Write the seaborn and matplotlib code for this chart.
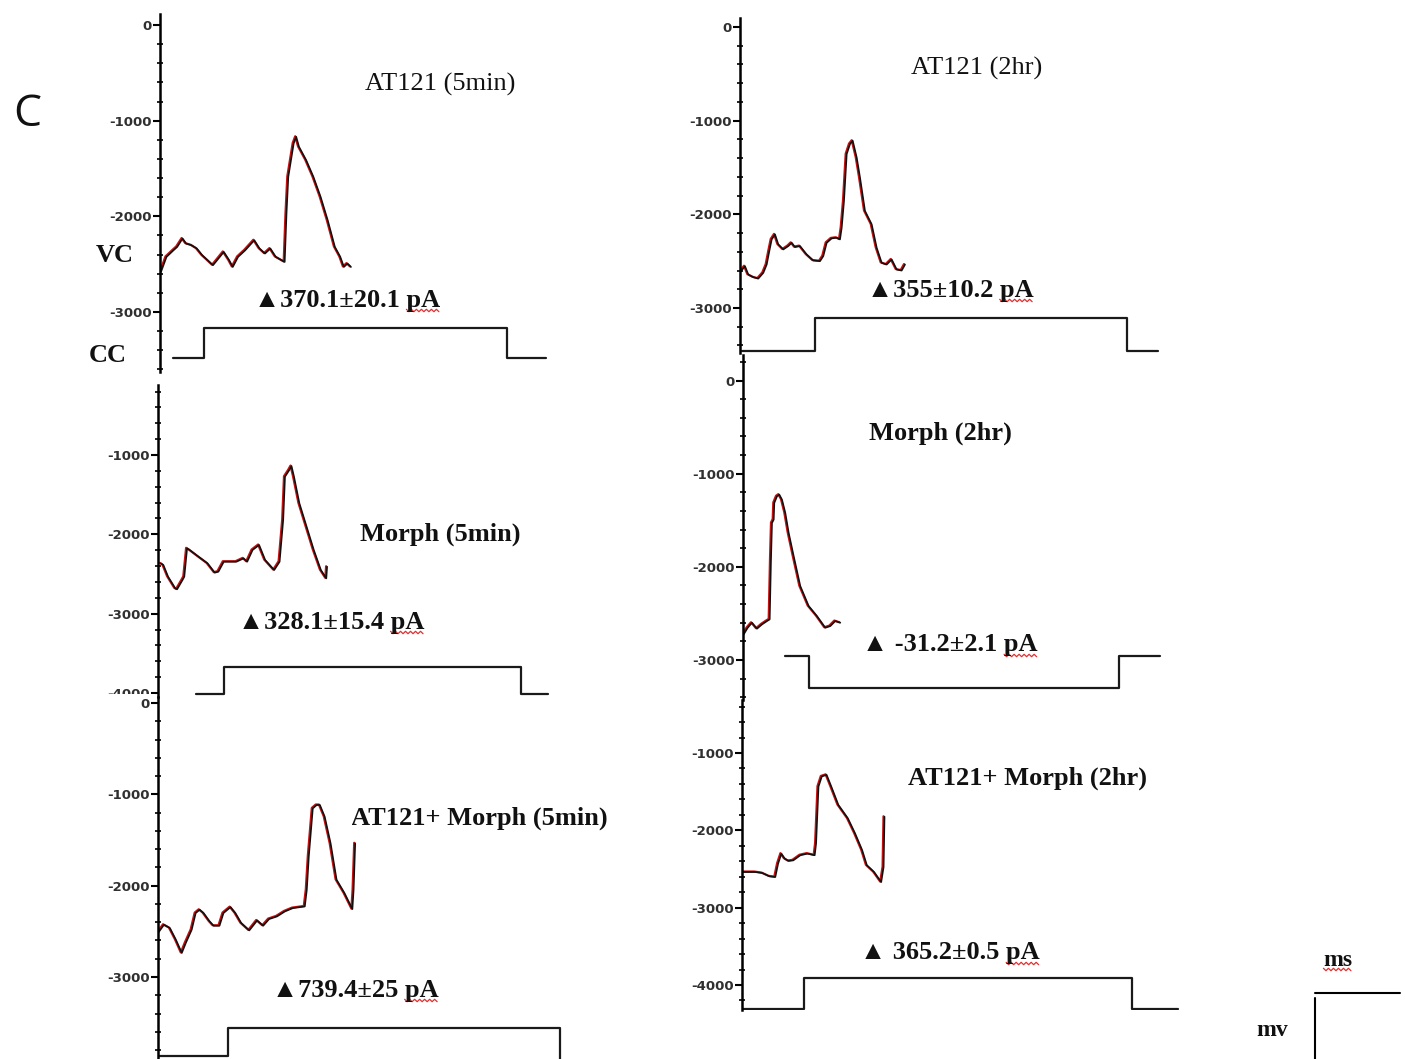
"""
Panel C - VC/CC traces for AT121 / Morph treatments (5 min and 2 hr)
"""
import numpy as np
import matplotlib
matplotlib.use("Agg")
import matplotlib.pyplot as plt
from matplotlib.ticker import MultipleLocator
from matplotlib.patches import Rectangle
from matplotlib.lines import Line2D
from matplotlib.transforms import offset_copy
import seaborn as sns

W, H = 1405, 1059

# ---- recorded traces (sample time, current in pA) ----
at121_5min_t = [1, 6.5, 13.6, 17.2, 22.6, 26.2, 31.5, 36.9, 42.3, 47.7, 53, 58.4, 63.8, 69.2,
                72.8, 78.1, 85.3, 94.3, 99.6, 105, 110.4, 115.8, 124.7, 126.5, 128.3, 133.7,
                136.2, 139, 146.2, 153.4, 160.6, 167.7, 174.9, 180.3, 183.9, 187.5, 191]
at121_5min_v = [-2581, -2424, -2354, -2320, -2232, -2285, -2302, -2337, -2407, -2459, -2511,
                -2442, -2372, -2459, -2529, -2424, -2354, -2250, -2337, -2389, -2337, -2424,
                -2477, -1971, -1587, -1238, -1168, -1273, -1413, -1587, -1796, -2040, -2320,
                -2424, -2529, -2494, -2529]

morph_5min_t = [2.9, 5.4, 10.1, 17.3, 19.1, 24.5, 26.3, 29.1, 31.7, 40.6, 49.6, 56.8, 60.4,
                65.8, 78.4, 85.6, 89.2, 94.6, 101.1, 107.2, 116.2, 121.6, 125.2, 127, 131.3,
                133.5, 136, 141.4, 148.6, 155.8, 162.9, 168.3, 169.1]
morph_5min_v = [-2366, -2387, -2534, -2681, -2693, -2576, -2534, -2176, -2197, -2282, -2366,
                -2483, -2471, -2345, -2345, -2303, -2345, -2197, -2134, -2324, -2450, -2345,
                -1819, -1273, -1189, -1139, -1273, -1609, -1903, -2197, -2450, -2555, -2408]

combo_5min_t = [0, 6, 11.9, 17.9, 23.8, 27.8, 33.7, 37.7, 41.7, 45.6, 51.6, 55.6, 61.5, 65.5,
                72.6, 77.4, 83.3, 91.3, 99.2, 105.2, 111.1, 119, 127, 134.9, 146.8, 148.8,
                150.8, 154.8, 158.7, 161.9, 166.7, 172.6, 178.6, 186.5, 194.4, 195.6, 197.2]
combo_5min_v = [-2519, -2428, -2464, -2592, -2737, -2628, -2483, -2300, -2264, -2300, -2391,
                -2439, -2439, -2300, -2235, -2300, -2410, -2490, -2381, -2439, -2366, -2337,
                -2282, -2246, -2228, -2046, -1682, -1154, -1117, -1117, -1245, -1536, -1936,
                -2082, -2257, -2046, -1536]

at121_2hr_t = [1, 5, 8.3, 13.3, 18.3, 23.3, 26.7, 29.3, 31.7, 35, 38.3, 43.3, 48.3, 51.7, 55,
               60, 66.7, 73.3, 80, 83.3, 86.7, 91.7, 96.7, 100, 101.7, 104, 106.7, 110, 112.7,
               116.7, 120, 125, 131.7, 136.7, 141.7, 146.7, 151.7, 156.7, 161.7, 165]
at121_2hr_v = [-2607, -2554, -2643, -2671, -2686, -2625, -2536, -2393, -2268, -2214, -2321,
               -2375, -2339, -2304, -2350, -2339, -2429, -2493, -2500, -2446, -2304, -2257,
               -2250, -2268, -2143, -1857, -1357, -1250, -1214, -1393, -1607, -1964, -2107,
               -2357, -2518, -2536, -2482, -2589, -2600, -2536]

morph_2hr_t = [0.7, 4.7, 9, 14, 19, 24, 26.7, 28, 29, 30.7, 31.3, 34, 36.3, 39, 42.3, 45.7,
               50.7, 57.3, 65.7, 74, 82.3, 87.3, 92.3, 97.3]
morph_2hr_v = [-2725, -2654, -2600, -2664, -2618, -2582, -2564, -1921, -1529, -1493, -1314,
               -1243, -1225, -1279, -1421, -1636, -1886, -2207, -2421, -2529, -2654, -2636,
               -2582, -2600]

combo_2hr_t = [1.4, 13.3, 20.4, 27.6, 33.3, 36.1, 39.4, 42.8, 46.6, 51.3, 58.4, 65.6, 72.7,
               74.1, 76.5, 79.8, 84.6, 89.3, 96.4, 105.9, 113.1, 120.2, 124.9, 132.1, 139.2,
               141.6, 142.5]
combo_2hr_v = [-2539, -2539, -2552, -2595, -2604, -2431, -2301, -2366, -2396, -2388, -2322,
               -2301, -2322, -2170, -1434, -1303, -1282, -1434, -1672, -1845, -2040, -2257,
               -2452, -2539, -2669, -2474, -1824]

# ---- CC command steps (edges in sample time, levels in pA) ----
at121_5min_step_t = [12.5, 44, 347, 386]
at121_5min_step_v = [-3477, -3167, -3477]
morph_5min_step_t = [38, 66, 363, 390]
morph_5min_step_v = [-4013, -3676, -4013]
combo_5min_step_t = [0, 70, 402, 430]
combo_5min_step_v = [-3860, -3557, -3930]
at121_2hr_step_t = [1.7, 75, 387, 418]
at121_2hr_step_v = [-3457, -3107, -3457]
morph_2hr_step_t = [42, 66, 376, 417]
morph_2hr_step_v = [-2957, -3296, -2957]
combo_2hr_step_t = [0, 62, 390, 436]
combo_2hr_step_v = [-4316, -3904, -4316]

# ---- labels ----
panel_titles = ["AT121 (5min)", "Morph (5min)", "AT121+ Morph (5min)",
                "AT121 (2hr)", "Morph (2hr)", "AT121+ Morph (2hr)"]
panel_values = ["\u25b2370.1\u00b120.1 pA", "\u25b2328.1\u00b115.4 pA", "\u25b2739.4\u00b125 pA",
                "\u25b2355\u00b110.2 pA", "\u25b2 -31.2\u00b12.1 pA", "\u25b2 365.2\u00b10.5 pA"]

sns.set_theme(style="white")
plt.rcParams["font.family"] = ["DejaVu Sans"]
plt.rcParams["axes.unicode_minus"] = False
SERIF = ["Liberation Serif", "DejaVu Serif"]

fig = plt.figure(figsize=(W / 100, H / 100), dpi=100)


def fx(x):
    return x / W


def fy(y):
    return 1 - y / H


def add_panel(spine_x, top, bottom, right, zero_px, px_per_1000, ticks, z=0):
    ax = fig.add_axes([fx(spine_x), fy(bottom), (right - spine_x) / W, (bottom - top) / H],
                      zorder=z)
    ax.set_facecolor("none")
    ax.set_xlim(0, right - spine_x)
    ax.set_ylim(-(bottom - zero_px) / px_per_1000 * 1000,
                (zero_px - top) / px_per_1000 * 1000)
    for s in ["top", "right", "bottom"]:
        ax.spines[s].set_visible(False)
    ax.spines["left"].set_linewidth(1.8)
    ax.spines["left"].set_color("black")
    ax.set_xticks([])
    ax.set_yticks(ticks)
    ax.set_yticklabels([str(t) for t in ticks], fontweight="bold")
    ax.yaxis.set_minor_locator(MultipleLocator(200))
    ax.tick_params(axis="y", which="major", direction="out", length=5, width=1.5,
                   labelsize=9.5, pad=1, colors="black", labelcolor="#303030", left=True)
    ax.tick_params(axis="y", which="minor", direction="inout", length=4, width=1.2,
                   colors="black", left=True)
    ax.grid(False)
    return ax


def draw_trace(ax, t, v, st, sv):
    sns.lineplot(x=t, y=v, ax=ax, color="#c81010", lw=1.6, sort=False, estimator=None)
    ax.lines[-1].set_transform(offset_copy(ax.transData, fig=fig, x=-1.0, y=0.5, units="dots"))
    sns.lineplot(x=t, y=v, ax=ax, color="#101010", lw=1.2, sort=False, estimator=None)
    sns.lineplot(x=st, y=list(sv) + [sv[-1]], ax=ax, color="#1a1a1a", lw=1.6,
                 sort=False, estimator=None, drawstyle="steps-post")


panels = [
    (add_panel(160, 14, 372, 560, 25, 95.67, [0, -1000, -2000, -3000]),
     at121_5min_t, at121_5min_v, at121_5min_step_t, at121_5min_step_v),
    (add_panel(158, 385, 697, 560, 375.7, 79.33, [-1000, -2000, -3000, -4000]),
     morph_5min_t, morph_5min_v, morph_5min_step_t, morph_5min_step_v),
    (add_panel(158, 697, 1059, 600, 703, 91.33, [0, -1000, -2000, -3000], z=2),
     combo_5min_t, combo_5min_v, combo_5min_step_t, combo_5min_step_v),
    (add_panel(740, 18, 353, 1165, 27, 93.67, [0, -1000, -2000, -3000]),
     at121_2hr_t, at121_2hr_v, at121_2hr_step_t, at121_2hr_step_v),
    (add_panel(743, 355, 700, 1165, 380.5, 93.17, [0, -1000, -2000, -3000]),
     morph_2hr_t, morph_2hr_v, morph_2hr_step_t, morph_2hr_step_v),
    (add_panel(742, 700, 1010, 1185, 675.7, 77.33, [-1000, -2000, -3000, -4000]),
     combo_2hr_t, combo_2hr_v, combo_2hr_step_t, combo_2hr_step_v),
]
for ax, t, v, st, sv in panels:
    draw_trace(ax, t, v, st, sv)

# half-hidden "-4000" of the Morph (5min) panel
fig.add_artist(Rectangle((fx(80), fy(700)), 75 / W, 6 / H, transform=fig.transFigure,
                         facecolor="white", edgecolor="none", zorder=1))

# ---- text ----
def label(x, y, s, size=19, weight="bold", ha="center", family=SERIF):
    return fig.text(fx(x), fy(y), s, ha=ha, va="center", fontsize=size, fontweight=weight,
                    family=family, color="#111111", zorder=3)


label(27, 115, "C", size=32, weight="normal", family=["Open Sans", "DejaVu Sans"])
label(115, 256, "VC")
label(108, 355, "CC")

title_pos = [(440, 84, "center"), (440, 534, "center"), (608, 818, "right"),
             (977, 68, "center"), (940, 433, "center"), (1027, 778, "center")]
title_weight = ["normal", "bold", "bold", "normal", "bold", "bold"]
value_pos = [(347, 300), (331, 622), (355, 990), (950, 290), (950, 645), (950, 953)]

value_texts = []
for s, (x, y, ha), wgt in zip(panel_titles, title_pos, title_weight):
    label(x, y, s, weight=wgt, ha=ha)
for s, (x, y) in zip(panel_values, value_pos):
    value_texts.append(label(x, y, s))

# clipped "A" on the AT121+ Morph (5min) label
fig.add_artist(Rectangle((fx(330), fy(836)), 22 / W, 36 / H, transform=fig.transFigure,
                         facecolor="white", edgecolor="none", zorder=4))

# scale bar
ms_text = label(1338, 960, "ms", size=17)
label(1272, 1030, "mv", size=17)
fig.add_artist(Line2D([fx(1315), fx(1400)], [fy(993), fy(993)], transform=fig.transFigure,
                      color="black", lw=1.5))
fig.add_artist(Line2D([fx(1315), fx(1315)], [fy(998), fy(1059)], transform=fig.transFigure,
                      color="black", lw=1.5))

# red spell-check squiggles under "pA" / "ms"
fig.canvas.draw()
renderer = fig.canvas.get_renderer()


def squiggle(x0, x1, y):
    xs = np.arange(x0, x1 + 0.1, 2.5)
    ys = y + np.where(np.arange(len(xs)) % 2 == 0, 1.2, -1.2)
    fig.add_artist(Line2D(xs / W, ys / H, transform=fig.transFigure, color="#e03030", lw=0.9))


for t in value_texts:
    bb = t.get_window_extent(renderer)
    pa_w = (0.556 + 0.722) * 19 * 100 / 72
    squiggle(bb.x1 - pa_w, bb.x1, bb.y0 + 1)
bb = ms_text.get_window_extent(renderer)
squiggle(bb.x0, bb.x1, bb.y0 + 1)

fig.savefig("out.png", dpi=100)
plt.close("all")
